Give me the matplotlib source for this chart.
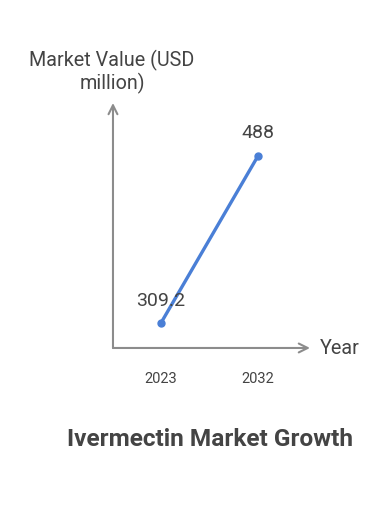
import matplotlib
matplotlib.use("Agg")
import matplotlib.pyplot as plt

years = ["2023", "2032"]
market_value = [309.2, 488]
value_labels = ["309.2", "488"]

plt.rcParams['font.family'] = ['Roboto', 'DejaVu Sans']

text_color = "#444444"
axis_color = "#8c8c8c"
line_color = "#4a7fd6"

fig = plt.figure(figsize=(3.9, 5.29), dpi=100)
ax = fig.add_axes([0.2897, 0.3422, 0.5051, 0.4631])

x = list(range(len(years)))
ax.plot(x, market_value, color=line_color, lw=2.4, marker='o', ms=5,
        solid_capstyle='round', zorder=3)

ax.set_xlim(-0.495, 1.536)
ax.set_ylim(282.4, 544.7)

for s in ax.spines.values():
    s.set_visible(False)
ax.set_xticks(x)
ax.set_xticklabels(years, fontsize=10.5, color=text_color)
ax.tick_params(axis='x', length=0, pad=17)
ax.set_yticks([])

# axis arrows
ax.annotate("", xy=(1.0, 0), xytext=(0, 0), xycoords='axes fraction',
            arrowprops=dict(arrowstyle='->', color=axis_color, lw=1.5,
                            mutation_scale=16, shrinkA=0, shrinkB=0))
ax.annotate("", xy=(0, 1.0), xytext=(0, 0), xycoords='axes fraction',
            arrowprops=dict(arrowstyle='->', color=axis_color, lw=1.5,
                            mutation_scale=16, shrinkA=0, shrinkB=0))

# value labels
ax.annotate(value_labels[0], (x[0], market_value[0]), textcoords='offset pixels',
            xytext=(0, 22), ha='center', va='center', fontsize=14, color=text_color)
ax.annotate(value_labels[1], (x[1], market_value[1]), textcoords='offset pixels',
            xytext=(0, 23), ha='center', va='center', fontsize=14, color=text_color)

fig.text(112/390, 1 - 72/529, "Market Value (USD\nmillion)", ha='center', va='center',
         fontsize=14.2, color=text_color, linespacing=1.12)
fig.text(320/390, 1 - 348/529, "Year", ha='left', va='center', fontsize=14.2,
         color=text_color)
fig.text(210/390, 1 - 439/529, "Ivermectin Market Growth", ha='center', va='center',
         fontsize=17.6, fontweight='bold', color=text_color)

fig.savefig("out.png", dpi=100, facecolor='white')
